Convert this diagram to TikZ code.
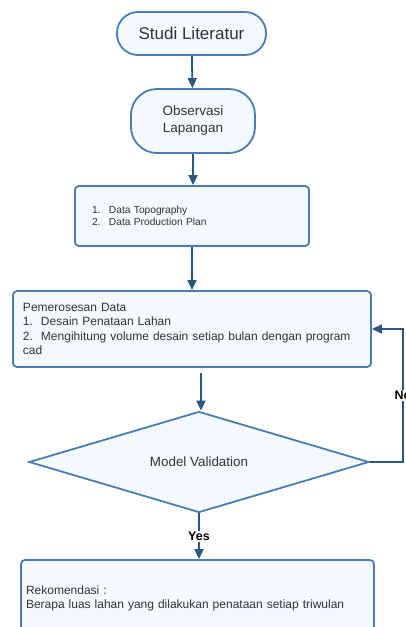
\documentclass[tikz,border=0pt]{standalone}
\usepackage{fontspec}
\setmainfont{Liberation Sans}
\usetikzlibrary{arrows.meta,shapes.geometric}
\definecolor{edgeblue}{HTML}{4A7DB3}
\definecolor{boxfill}{HTML}{F4F9FF}
\definecolor{arrowblue}{HTML}{2B5783}
\definecolor{inktext}{HTML}{333333}
\tikzset{
  box/.style={draw=edgeblue, fill=boxfill, line width=1.8pt, text=inktext},
  terminal/.style={box, rounded corners=21pt, font=\fontsize{17}{20}\selectfont},
  roundbox/.style={box, rounded corners=26pt, align=center, font=\fontsize{13.5}{17}\selectfont},
  listbox/.style={box, rounded corners=4pt, align=left, anchor=center},
  decision/.style={box, diamond, inner sep=0pt, font=\fontsize{13.4}{16}\selectfont},
  flow/.style={draw=arrowblue, line width=1.8pt, -{Triangle[length=10pt,width=9pt]}},
  branch/.style={font=\bfseries\fontsize{12.5}{14}\selectfont, fill=white, inner sep=1pt, text=black}
}
\begin{document}
\begin{tikzpicture}[x=1pt,y=-1pt]
  \useasboundingbox[fill=white] (0,0) rectangle (406,627);

  % start
  \node[terminal, minimum width=149pt, minimum height=43pt] (studi) at (191.5,33.5) {Studi Literatur};

  % field observation
  \node[roundbox, minimum width=124pt, minimum height=64pt] (obs) at (193,121) {Observasi\\Lapangan};

  % input data
  \node[listbox, minimum width=234pt, minimum height=60pt, text width=200pt, inner xsep=17pt,
        font=\fontsize{10.2}{13}\selectfont] (data) at (192,216)
    {\makebox[17pt][l]{1.}Data Topography\\[-0.5pt]\makebox[17pt][l]{2.}Data Production Plan\\[3pt]};

  % processing
  \node[listbox, minimum width=358pt, minimum height=76pt, text width=338pt, inner xsep=10pt,
        font=\fontsize{12}{14.3}\selectfont] (proc) at (192,329)
    {Pemerosesan Data\\1.\ \ Desain Penataan Lahan\\2.\ \ Mengihitung volume desain setiap bulan dengan program\\cad};

  % validation
  \node[decision, minimum width=340pt, minimum height=101pt, aspect=3.37] (valid) at (199,462) {Model Validation};

  % recommendation
  \node[listbox, minimum width=353pt, minimum height=77pt, text width=343pt, inner xsep=5pt,
        font=\fontsize{12}{13.4}\selectfont] (rekom) at (197.5,598.5)
    {Rekomendasi :\\Berapa luas lahan yang dilakukan penataan setiap triwulan};

  \coordinate (procout) at (201,373);
  \coordinate (loopturn) at (403,462);

  \draw[flow] (studi) -- (obs);
  \draw[flow] (obs) -- (obs |- data.north);
  \draw[flow] (data) -- (proc);
  \draw[flow] (procout) -- (procout |- valid.north);
  \draw[flow] (valid.east) -- (loopturn) |- (proc.east)
    node[branch, pos=0.25] {No};
  \draw[flow] (valid.south) -- (valid.south |- rekom.north)
    node[branch, midway] {Yes};
\end{tikzpicture}
\end{document}
